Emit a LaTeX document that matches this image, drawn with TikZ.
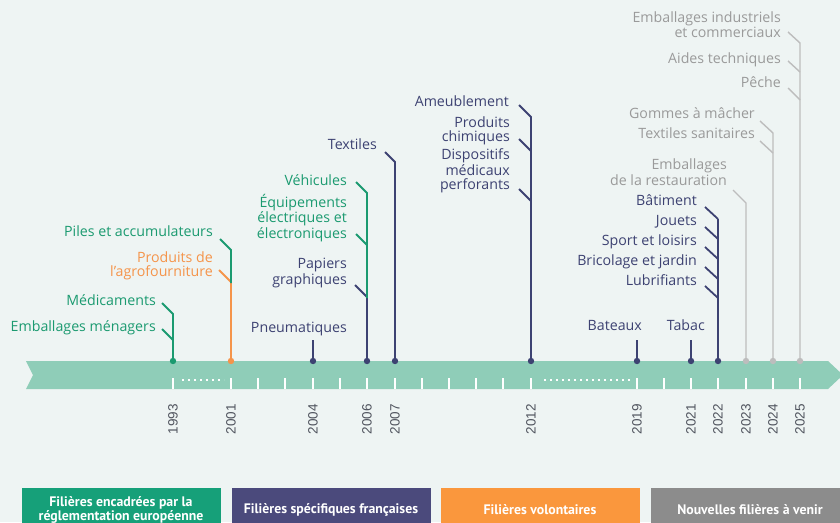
\documentclass[tikz,border=0pt]{standalone}
\usepackage{fontspec}
\setmainfont{Open Sans}
\newfontfamily\anneefont{Liberation Sans}
\newfontfamily\legendefont{PT Sans}
\definecolor{cfond}{HTML}{EEF4F3}
\definecolor{cbande}{HTML}{8FCDB8}
\definecolor{cvert}{HTML}{1B9A70}
\definecolor{cbleu}{HTML}{3D4272}
\definecolor{corange}{HTML}{F5944A}
\definecolor{cgris}{HTML}{9A9A9A}
\definecolor{cgrisligne}{HTML}{BDBDBD}
\definecolor{cannee}{HTML}{50545E}
\definecolor{lvert}{HTML}{16A079}
\definecolor{lbleu}{HTML}{4B4A7C}
\definecolor{lorange}{HTML}{FA973D}
\definecolor{lgris}{HTML}{8C8C8C}
\begin{document}
\begin{tikzpicture}[x=1pt,y=-1pt,
        lbl/.style={font=\fontsize{14.2}{14}\selectfont, align=right, anchor=base east, inner sep=0pt},
        tige/.style={line width=1.8pt},
        tigegris/.style={line width=1.4pt, cgrisligne},
        annee/.style={font=\anneefont\fontsize{13.5}{14}\selectfont, cannee, rotate=90, anchor=east, inner sep=0pt},
        legende/.style={font=\legendefont\bfseries\fontsize{13.8}{13.5}\selectfont, text=white, align=center,
            minimum width=199pt, minimum height=44pt, inner sep=0pt}]
                        \useasboundingbox (0,0) rectangle (840,522);
                        \fill[cfond] (0,0) rectangle (840,522);

                        \fill[cbande] (26,361) -- (828,361) -- (843,375) -- (828,389) -- (26,389) -- (33,375) -- cycle;
                        \foreach \xx in {173,231,258,285,313,340,367,395,422,449,476,503,531,637,664,691,718,746,773,800}
                            \draw[white, line width=1.4pt] (\xx,378) -- (\xx,389);
                        \draw[white, line width=2pt, dash pattern=on 2pt off 4pt] (182,380) -- (224,380);
                        \draw[white, line width=2pt, dash pattern=on 2pt off 4pt] (544,380) -- (630,380);
                        \foreach \an/\xx in {1993/173,2001/231,2004/313,2006/367,2007/395,2012/531,2019/637,2021/691,2022/718,2023/746,2024/773,2025/800}
                            \node[annee] (a\an) at (\xx,404) {\an};

                        \coordinate (d1993) at (173,361);
                        \coordinate (d2001) at (231,361);
                        \coordinate (d2004) at (313,361);
                        \coordinate (d2006) at (367,361);
                        \coordinate (d2007) at (395,361);
                        \coordinate (d2012) at (531,361);
                        \coordinate (d2019) at (637,361);
                        \coordinate (d2021) at (691,361);
                        \coordinate (d2022) at (718,361);
                        \coordinate (d2023) at (746,361);
                        \coordinate (d2024) at (773,361);
                        \coordinate (d2025) at (800,361);

                        \draw[tige, cvert] (d1993) -- (173,314) -- ++(-11,-11);
                        \draw[tige, cvert] (173,340) -- ++(-11,-11);
                        \node[lbl, cvert] (medic) at (156,305) {Médicaments};
                        \node[lbl, cvert] (menag) at (156,331) {Emballages ménagers};

                        \draw[tige, corange] (d2001) -- (231,282) -- ++(-12,-12);
                        \draw[tige, cvert] (231,283) -- (231,250) -- ++(-11,-11);
                        \node[lbl, cvert] (piles) at (213,236) {Piles et accumulateurs};
                        \node[lbl, corange] (agro) at (213,276) {Produits de\\l’agrofourniture};

                        \draw[tige, cbleu] (d2004) -- (313,340);
                        \node[lbl, cbleu] (pneu) at (347,332) {Pneumatiques};

                        \draw[tige, cbleu] (d2006) -- (367,297) -- ++(-12,-12);
                        \draw[tige, cvert] (367,298) -- (367,193) -- ++(-11,-11);
                        \draw[tige, cvert] (367,245) -- ++(-11,-11);
                        \node[lbl, cvert] (vehic) at (347,185) {Véhicules};
                        \node[lbl, cvert] (deee) at (347,238) {Équipements\\électriques et\\électroniques};
                        \node[lbl, cbleu] (papiers) at (347,284) {Papiers\\graphiques};

                        \draw[tige, cbleu] (d2007) -- (395,162) -- ++(-10,-10);
                        \node[lbl, cbleu] (textiles) at (377,149) {Textiles};

                        \draw[tige, cbleu] (d2012) -- (531,117) -- ++(-12,-12);
                        \draw[tige, cbleu] (531,151) -- ++(-12,-12);
                        \draw[tige, cbleu] (531,201) -- ++(-12,-12);
                        \node[lbl, cbleu] (ameub) at (509,106) {Ameublement};
                        \node[lbl, cbleu] (chim) at (510,141) {Produits\\chimiques};
                        \node[lbl, cbleu] (dispo) at (510,189) {Dispositifs\\médicaux\\perforants};

                        \draw[tige, cbleu] (d2019) -- (637,340);
                        \node[lbl, cbleu] (bateaux) at (642,330) {Bateaux};
                        \draw[tige, cbleu] (d2021) -- (691,340);
                        \node[lbl, cbleu] (tabac) at (705,330) {Tabac};

                        \draw[tige, cbleu] (d2022) -- (718,219);
                        \foreach \yy in {219,239,259,279,298}
                            \draw[tige, cbleu] (718,\yy) -- ++(-13,-12);
                        \node[lbl, cbleu] (batiment) at (697,205) {Bâtiment};
                        \node[lbl, cbleu] (jouets) at (697,225) {Jouets};
                        \node[lbl, cbleu] (sport) at (697,245) {Sport et loisirs};
                        \node[lbl, cbleu] (bricol) at (697,265) {Bricolage et jardin};
                        \node[lbl, cbleu] (lubri) at (697,285) {Lubrifiants};

                        \draw[tigegris] (d2023) -- (746,203) -- ++(-13,-13);
                        \node[lbl, cgris] (restau) at (727,185) {Emballages\\de la restauration};

                        \draw[tigegris] (d2024) -- (773,133) -- ++(-13,-12);
                        \draw[tigegris] (773,153) -- ++(-13,-12);
                        \node[lbl, cgris] (gommes) at (755,118) {Gommes à mâcher};
                        \node[lbl, cgris] (sanit) at (755,138) {Textiles sanitaires};

                        \draw[tigegris] (d2025) -- (800,43) -- ++(-12,-11);
                        \draw[tigegris] (800,72) -- ++(-12,-11);
                        \draw[tigegris] (800,100) -- ++(-12,-12);
                        \node[lbl, cgris] (indus) at (781,37) {Emballages industriels\\et commerciaux};
                        \node[lbl, cgris] (aides) at (781,63) {Aides techniques};
                        \node[lbl, cgris] (peche) at (781,87) {Pêche};

                        \fill[cvert] (d1993) circle (3.2pt);
                        \fill[corange] (d2001) circle (3.2pt);
                        \foreach \d in {d2004,d2006,d2007,d2012,d2019,d2021,d2022}
                            \fill[cbleu] (\d) circle (3.2pt);
                        \foreach \d in {d2023,d2024,d2025}
                            \fill[cgrisligne] (\d) circle (3.2pt);

                        \node[legende, fill=lvert] (leg1) at (121,510) {\raisebox{2pt}{\shortstack{Filières encadrées par la\\[-1pt]réglementation européenne}}};
                        \node[legende, fill=lbleu] (leg2) at (331,510) {Filières spécifiques françaises};
                        \node[legende, fill=lorange] (leg3) at (540,510) {Filières volontaires};
                        \node[legende, fill=lgris] (leg4) at (750,510) {Nouvelles filières à venir};
                    \end{tikzpicture}
\end{document}
